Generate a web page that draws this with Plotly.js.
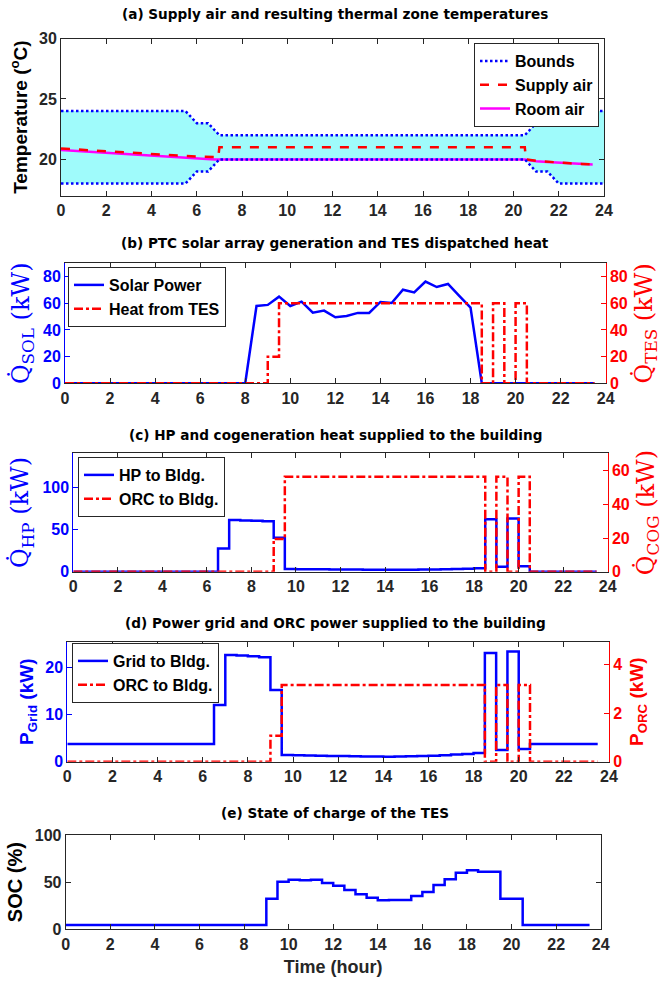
<!DOCTYPE html>
<html>
<head>
<meta charset="utf-8">
<script src="https://cdn.plot.ly/plotly-3.0.1.min.js"></script>
<style>
  html, body { margin: 0; padding: 0; background: #fff; }
  #chart { width: 670px; height: 981px; }
</style>
</head>
<body>
<div id="chart"></div>
<script>
// ---------- data ----------
// (a) comfort bounds, supply air and room air temperatures (°C)
const boundHours = [0, 5.5, 6, 6.5, 7, 20.5, 21, 21.5, 22, 24];
const upperBound = [24, 24, 23, 23, 22, 22, 23, 23, 24, 24];
const lowerBound = [18, 18, 19, 19, 20, 20, 19, 19, 18, 18];

const supplyHours = [0, 1, 2, 3, 4, 5, 6, 6.95, 7, 20.5, 20.55, 21, 21.5, 22, 22.5, 23, 23.5];
const supplyAir   = [20.9, 20.78, 20.67, 20.56, 20.45, 20.34, 20.23, 20.18, 21, 21, 20.0, 19.88, 19.8, 19.74, 19.68, 19.63, 19.6];

const roomHours = [0, 1, 2, 3, 4, 5, 6, 6.8, 20.5, 21, 21.5, 22, 22.5, 23, 23.5];
const roomAir   = [20.78, 20.66, 20.54, 20.42, 20.3, 20.18, 20.06, 20.0, 20.0, 19.85, 19.78, 19.72, 19.66, 19.61, 19.58];

// half-hourly schedule, 0 .. 23.5 h
const hours = [0, 0.5, 1, 1.5, 2, 2.5, 3, 3.5, 4, 4.5, 5, 5.5, 6, 6.5, 7, 7.5,
               8, 8.5, 9, 9.5, 10, 10.5, 11, 11.5, 12, 12.5, 13, 13.5, 14, 14.5, 15, 15.5,
               16, 16.5, 17, 17.5, 18, 18.5, 19, 19.5, 20, 20.5, 21, 21.5, 22, 22.5, 23, 23.5];

// (b) PTC solar generation and TES dispatched heat (kW)
const solarPower = [0, 0, 0, 0, 0, 0, 0, 0, 0, 0, 0, 0, 0, 0, 0, 0,
                    0, 58, 58.8, 65, 58, 61.2, 53, 54.5, 49.5, 50.5, 52.8, 52.8, 61, 60.2, 70.2, 68.2,
                    76.3, 72.2, 74.5, 65.5, 56.8, 0, 0, 0, 0, 0, 0, 0, 0, 0, 0, 0];
const heatFromTES = [0, 0, 0, 0, 0, 0, 0, 0, 0, 0, 0, 0, 0, 0, 0, 0,
                     0, 0, 20, 60, 60, 60, 60, 60, 60, 60, 60, 60, 60, 60, 60, 60,
                     60, 60, 60, 60, 60, 0, 60, 0, 60, 0, 0, 0, 0, 0, 0, 0];

// (c) heat pump and ORC cogeneration heat to the building (kW)
const hpToBldg = [0, 0, 0, 0, 0, 0, 0, 0, 0, 0, 0, 0, 0, 27.5, 61.5, 61,
                  60.6, 60.2, 40.5, 3.2, 3.0, 2.9, 2.8, 2.7, 2.6, 2.5, 2.4, 2.4, 2.3, 2.3, 2.4, 2.5,
                  2.6, 2.8, 3.2, 3.6, 4.0, 62.4, 6, 63.5, 6.5, 0, 0, 0, 0, 0, 0, 0];
const orcHeatToBldg = [0, 0, 0, 0, 0, 0, 0, 0, 0, 0, 0, 0, 0, 0, 0, 0,
                       0, 0, 19.4, 56.4, 56.4, 56.4, 56.4, 56.4, 56.4, 56.4, 56.4, 56.4, 56.4, 56.4, 56.4, 56.4,
                       56.4, 56.4, 56.4, 56.4, 56.4, 0, 56.4, 0, 56.4, 0, 0, 0, 0, 0, 0, 0];

// (d) grid and ORC electric power to the building (kW)
const gridToBldg = [3.75, 3.75, 3.75, 3.75, 3.75, 3.75, 3.75, 3.75, 3.75, 3.75, 3.75, 3.75, 3.75, 12.0, 22.6, 22.5,
                    22.3, 22.1, 15.2, 1.4, 1.35, 1.3, 1.25, 1.2, 1.2, 1.15, 1.1, 1.1, 1.05, 1.1, 1.15, 1.2,
                    1.25, 1.35, 1.5, 1.65, 1.85, 23.0, 2.5, 23.3, 2.7, 3.75, 3.75, 3.75, 3.75, 3.75, 3.75, 3.75];
const orcPowerToBldg = [0, 0, 0, 0, 0, 0, 0, 0, 0, 0, 0, 0, 0, 0, 0, 0,
                        0, 0, 1.07, 3.15, 3.15, 3.15, 3.15, 3.15, 3.15, 3.15, 3.15, 3.15, 3.15, 3.15, 3.15, 3.15,
                        3.15, 3.15, 3.15, 3.15, 3.15, 0, 3.15, 0, 3.15, 0, 0, 0, 0, 0, 0, 0];

// (e) TES state of charge (%)
const tesSOC = [4.5, 4.5, 4.5, 4.5, 4.5, 4.5, 4.5, 4.5, 4.5, 4.5, 4.5, 4.5, 4.5, 4.5, 4.5, 4.5,
                4.5, 4.5, 32.5, 50.5, 52.5, 52, 52.5, 49, 46.2, 41.7, 37.2, 33.5, 30.7, 31, 31, 35.3,
                39.5, 47, 53, 60, 62.5, 61, 61, 32.5, 32.5, 4.5, 4.5, 4.5, 4.5, 4.5, 4.5, 4.5];

const panelTitles = [
  '(a) Supply air and resulting thermal zone temperatures',
  '(b) PTC solar array generation and TES dispatched heat',
  '(c) HP and cogeneration heat supplied to the building',
  '(d) Power grid and ORC power supplied to the building',
  '(e) State of charge of the TES'
];

// ---------- styling ----------
const W = 670, H = 981;
const SANS = 'Liberation Sans, Arial, sans-serif';
const SERIF = 'DejaVu Serif, serif';
const TITLE_FONT = 'DejaVu Sans, sans-serif';
const DARK = '#262626';
const BLUE = '#0000ff';
const RED = '#ff0000';
const MAGENTA = '#ff00ff';
const CYAN_FILL = '#9ffbfb';
const LW = 2.5;

function dx(l, r) { return [l / W, r / W]; }
function dy(top, bottom) { return [1 - bottom / H, 1 - top / H]; }

function xAxis(l, r, anchor) {
  return {
    domain: dx(l, r), range: [0, 24], tick0: 0, dtick: 2, anchor: anchor,
    ticks: 'inside', ticklen: 5, tickcolor: DARK, tickwidth: 1,
    showline: true, linecolor: DARK, linewidth: 1, mirror: 'ticks',
    showgrid: false, zeroline: false, fixedrange: true,
    tickfont: { family: SANS, size: 16, color: DARK, weight: 'bold' }
  };
}
function yAxis(opts) {
  const c = opts.color || DARK;
  const ax = {
    range: opts.range, dtick: opts.dtick, tick0: 0, anchor: opts.anchor,
    ticks: 'inside', ticklen: 5, tickcolor: c, tickwidth: 1,
    showline: true, linecolor: c, linewidth: 1, mirror: opts.mirror || false,
    showgrid: false, zeroline: false, fixedrange: true,
    tickfont: { family: SANS, size: 16, color: c, weight: 'bold' },
    title: { text: opts.title, font: opts.titleFont, standoff: opts.standoff || 6 }
  };
  if (opts.domain) ax.domain = opts.domain;
  if (opts.overlaying) { ax.overlaying = opts.overlaying; ax.side = 'right'; }
  return ax;
}
const sansTitle = (size, color) => ({ family: SANS, size: size, color: color, weight: 'bold' });
const serifTitle = (size, color) => ({ family: SERIF, size: size, color: color });

function legendBox(xRight, xLeft, yTop) {
  const box = {
    y: 1 - yTop / H, yanchor: 'top', traceorder: 'normal',
    bgcolor: '#ffffff', bordercolor: DARK, borderwidth: 1,
    font: { family: SANS, size: 16, color: '#000', weight: 'bold' },
    tracegroupgap: 0, itemwidth: 30
  };
  if (xRight !== null) { box.x = xRight / W; box.xanchor = 'right'; }
  else { box.x = xLeft / W; box.xanchor = 'left'; }
  return box;
}

// ---------- traces ----------
const traces = [
  // (a) comfort band fill
  { x: boundHours, y: lowerBound, xaxis: 'x', yaxis: 'y', mode: 'lines',
    line: { width: 0 }, showlegend: false, hoverinfo: 'skip' },
  { x: boundHours, y: upperBound, xaxis: 'x', yaxis: 'y', mode: 'lines',
    line: { width: 0 }, fill: 'tonexty', fillcolor: CYAN_FILL, showlegend: false, hoverinfo: 'skip' },
  { x: roomHours, y: roomAir, name: 'Room air', xaxis: 'x', yaxis: 'y', mode: 'lines',
    line: { color: MAGENTA, width: LW }, legend: 'legend', legendrank: 3 },
  { x: supplyHours, y: supplyAir, name: 'Supply air', xaxis: 'x', yaxis: 'y', mode: 'lines',
    line: { color: RED, width: LW, dash: 'dash' }, legend: 'legend', legendrank: 2 },
  { x: boundHours, y: upperBound, name: 'Bounds', xaxis: 'x', yaxis: 'y', mode: 'lines',
    line: { color: BLUE, width: LW, dash: '2.5px,2.5px' }, legend: 'legend', legendrank: 1 },
  { x: boundHours, y: lowerBound, name: 'Bounds', xaxis: 'x', yaxis: 'y', mode: 'lines',
    line: { color: BLUE, width: LW, dash: '2.5px,2.5px' }, showlegend: false },

  // (b)
  { x: hours, y: solarPower, name: 'Solar Power', xaxis: 'x2', yaxis: 'y2', mode: 'lines',
    line: { color: BLUE, width: LW }, legend: 'legend2' },
  { x: hours, y: heatFromTES, name: 'Heat from TES', xaxis: 'x2', yaxis: 'y3', mode: 'lines',
    line: { color: RED, width: LW, dash: 'dashdot', shape: 'hv' }, legend: 'legend2' },

  // (c)
  { x: hours, y: hpToBldg, name: 'HP to Bldg.', xaxis: 'x3', yaxis: 'y4', mode: 'lines',
    line: { color: BLUE, width: LW, shape: 'hv' }, legend: 'legend3' },
  { x: hours, y: orcHeatToBldg, name: 'ORC to Bldg.', xaxis: 'x3', yaxis: 'y5', mode: 'lines',
    line: { color: RED, width: LW, dash: 'dashdot', shape: 'hv' }, legend: 'legend3' },

  // (d)
  { x: hours, y: gridToBldg, name: 'Grid to Bldg.', xaxis: 'x4', yaxis: 'y6', mode: 'lines',
    line: { color: BLUE, width: LW, shape: 'hv' }, legend: 'legend4' },
  { x: hours, y: orcPowerToBldg, name: 'ORC to Bldg.', xaxis: 'x4', yaxis: 'y7', mode: 'lines',
    line: { color: RED, width: LW, dash: 'dashdot', shape: 'hv' }, legend: 'legend4' },

  // (e)
  { x: hours, y: tesSOC, name: 'SOC', xaxis: 'x5', yaxis: 'y8', mode: 'lines',
    line: { color: BLUE, width: LW, shape: 'hv' }, showlegend: false }
];

// ---------- layout ----------
const xa5 = xAxis(65.7, 600.7, 'y8');
xa5.title = { text: 'Time (hour)', font: sansTitle(18, DARK), standoff: 8 };

const layout = {
  width: W, height: H,
  margin: { l: 0, r: 0, t: 0, b: 0 },
  paper_bgcolor: '#ffffff', plot_bgcolor: '#ffffff',
  showlegend: true,
  hovermode: false,

  xaxis: xAxis(61, 604, 'y'),
  yaxis: yAxis({ domain: dy(38.5, 195.7), range: [17, 30], dtick: 5, anchor: 'x', mirror: 'ticks',
                 title: 'Temperature (<sup>o</sup>C)', titleFont: sansTitle(19, '#000') }),

  xaxis2: xAxis(65, 605.7, 'y2'),
  yaxis2: yAxis({ domain: dy(263.3, 383.3), range: [0, 90], dtick: 20, anchor: 'x2', color: BLUE,
                  title: 'Q\u0307<sub>SOL</sub> (kW)', titleFont: serifTitle(24, BLUE) }),
  yaxis3: yAxis({ overlaying: 'y2', range: [0, 90], dtick: 20, anchor: 'x2', color: RED, standoff: 8,
                  title: 'Q\u0307<sub>TES</sub> (kW)', titleFont: serifTitle(24, RED) }),

  xaxis3: xAxis(73.3, 607.7, 'y4'),
  yaxis4: yAxis({ domain: dy(453.3, 571.7), range: [0, 141], dtick: 50, anchor: 'x3', color: BLUE,
                  title: 'Q\u0307<sub>HP</sub> (kW)', titleFont: serifTitle(24, BLUE) }),
  yaxis5: yAxis({ overlaying: 'y4', range: [0, 70.3], dtick: 20, anchor: 'x3', color: RED, standoff: 8,
                  title: 'Q\u0307<sub>COG</sub> (kW)', titleFont: serifTitle(24, RED) }),

  xaxis4: xAxis(67.3, 609, 'y6'),
  yaxis6: yAxis({ domain: dy(641.7, 761.7), range: [0, 25.4], dtick: 10, anchor: 'x4', color: BLUE,
                  title: 'P<sub>Grid</sub> (kW)', titleFont: sansTitle(19, BLUE) }),
  yaxis7: yAxis({ overlaying: 'y6', range: [0, 4.93], dtick: 2, anchor: 'x4', color: RED, standoff: 8,
                  title: 'P<sub>ORC</sub> (kW)', titleFont: sansTitle(19, RED) }),

  xaxis5: xa5,
  yaxis8: yAxis({ domain: dy(835, 929.3), range: [0, 100], dtick: 50, anchor: 'x5', mirror: 'ticks',
                  title: 'SOC (%)', titleFont: sansTitle(20, '#000') }),

  legend:  legendBox(599, null, 43),
  legend2: legendBox(null, 68, 267),
  legend3: legendBox(null, 78, 457),
  legend4: legendBox(null, 72, 643),

  annotations: panelTitles.map((t, i) => ({
    text: t, xref: 'paper', yref: 'paper', x: 0.5, xanchor: 'center',
    y: 1 - [14, 243, 435, 623, 813][i] / H, yanchor: 'middle', showarrow: false,
    font: { family: TITLE_FONT, size: 13.6, color: '#000', weight: 'bold' }
  }))
};

Plotly.newPlot('chart', traces, layout, { staticPlot: true, displayModeBar: false });
</script>
</body>
</html>
